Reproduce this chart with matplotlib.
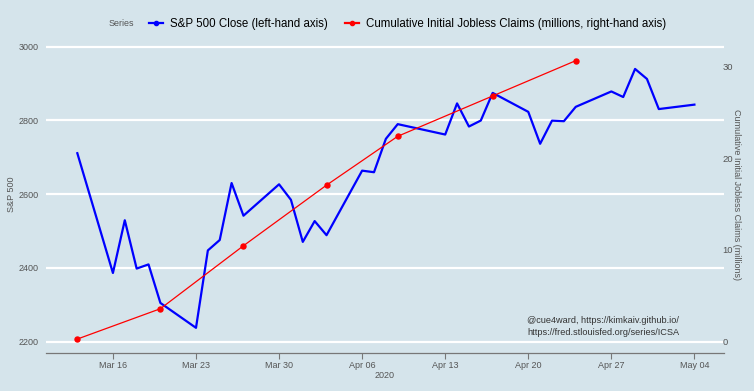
import numpy as np
import matplotlib
matplotlib.use('Agg')
import matplotlib.pyplot as plt
import matplotlib.dates as mdates
from matplotlib.lines import Line2D

plt.rcParams['font.family'] = ['Liberation Sans', 'DejaVu Sans']

# S&P 500 daily close
spDates = ['2020-03-13', '2020-03-16', '2020-03-17', '2020-03-18', '2020-03-19',
           '2020-03-20', '2020-03-23', '2020-03-24', '2020-03-25', '2020-03-26',
           '2020-03-27', '2020-03-30', '2020-03-31', '2020-04-01', '2020-04-02',
           '2020-04-03', '2020-04-06', '2020-04-07', '2020-04-08', '2020-04-09',
           '2020-04-13', '2020-04-14', '2020-04-15', '2020-04-16', '2020-04-17',
           '2020-04-20', '2020-04-21', '2020-04-22', '2020-04-23', '2020-04-24',
           '2020-04-27', '2020-04-28', '2020-04-29', '2020-04-30', '2020-05-01',
           '2020-05-04']
spClose = [2711.02, 2386.13, 2529.19, 2398.10, 2409.39,
           2304.92, 2237.40, 2447.33, 2475.56, 2630.07,
           2541.47, 2626.65, 2584.59, 2470.50, 2526.90,
           2488.65, 2663.68, 2659.41, 2749.98, 2789.82,
           2761.63, 2846.06, 2783.36, 2799.55, 2874.56,
           2823.16, 2736.56, 2799.31, 2797.80, 2836.74,
           2878.48, 2863.39, 2939.51, 2912.43, 2830.71,
           2842.74]

# cumulative initial jobless claims (millions)
claimDates = ['2020-03-13', '2020-03-20', '2020-03-27', '2020-04-03',
              '2020-04-09', '2020-04-17', '2020-04-24']
claimsCum = [0.28, 3.59, 10.46, 17.07, 22.4, 26.8, 30.65]

tickDates = ['2020-03-16', '2020-03-23', '2020-03-30', '2020-04-06',
             '2020-04-13', '2020-04-20', '2020-04-27', '2020-05-04']
tickLabels = ['Mar 16', 'Mar 23', 'Mar 30', 'Apr 06',
              'Apr 13', 'Apr 20', 'Apr 27', 'May 04']

bg = '#d5e4eb'
txt = '#555555'
scale = 24.86  # S&P points per million claims
base = 2200

spX = mdates.datestr2num(spDates)
claimX = mdates.datestr2num(claimDates)
ticksX = mdates.datestr2num(tickDates)

fig = plt.figure(figsize=(7.54, 3.91), dpi=100, facecolor=bg)
ax = fig.add_axes([0.061, 0.098, 0.899, 0.811])
ax.set_facecolor(bg)
ax2 = ax.twinx()

ax.plot(spX, spClose, color='blue', lw=1.6, zorder=3)
ax2.plot(claimX, claimsCum, color='red', lw=0.9, marker='o', ms=3.6, zorder=3)

x0 = ticksX[0]
ax.set_xlim(x0 - 5.64, x0 + 51.48)
ax.set_ylim(2170, 3030)
ax2.set_ylim((2170 - base) / scale, (3030 - base) / scale)

ax.set_yticks([2200, 2400, 2600, 2800, 3000])
ax.grid(axis='y', color='white', lw=1.6)
ax.set_axisbelow(True)
ax.set_xticks(ticksX)
ax.set_xticklabels(tickLabels)
ax.tick_params(axis='x', length=4, width=0.8, color='#777777', labelsize=6.5,
               labelcolor=txt, pad=2)
ax.tick_params(axis='y', length=0, labelsize=6.5, labelcolor=txt, pad=5)
ax2.set_yticks([0, 10, 20, 30])
ax2.tick_params(axis='y', length=0, labelsize=6.8, labelcolor=txt, pad=-1)

for s in ['top', 'left', 'right']:
    ax.spines[s].set_visible(False)
    ax2.spines[s].set_visible(False)
ax.spines['bottom'].set_color('#777777')
ax.spines['bottom'].set_linewidth(0.9)
ax2.spines['bottom'].set_visible(False)

ax.set_xlabel('2020', fontsize=6.5, color=txt, labelpad=1)
ax.set_ylabel('S&P 500', fontsize=6.5, color=txt, labelpad=2)
ax2.set_ylabel('Cumulative Initial Jobless Claims (millions)', fontsize=6.5,
               color=txt, rotation=-90, labelpad=6)

ax.text(527, 391 - 326.5, '@cue4ward, https://kimkaiv.github.io/\nhttps://fred.stlouisfed.org/series/ICSA',
        transform=None, fontsize=6.6, color='#333333', va='center', ha='left',
        linespacing=1.3)

fig.text(109 / 754, 1 - 24 / 391, 'Series', fontsize=6.4, color=txt,
         va='center', ha='left')
handles = [Line2D([], [], color='blue', lw=1.6, marker='o', ms=3),
           Line2D([], [], color='red', lw=1.6, marker='o', ms=3)]
fig.legend(handles, ['S&P 500 Close (left-hand axis)',
                     'Cumulative Initial Jobless Claims (millions, right-hand axis)'],
           loc='center left', bbox_to_anchor=(149 / 754, 1 - 24 / 391), ncol=2,
           frameon=False, fontsize=8.3, borderpad=0, borderaxespad=0,
           handlelength=1.2, handletextpad=0.6, columnspacing=1.5)

fig.savefig('out.png', dpi=100, facecolor=bg)
